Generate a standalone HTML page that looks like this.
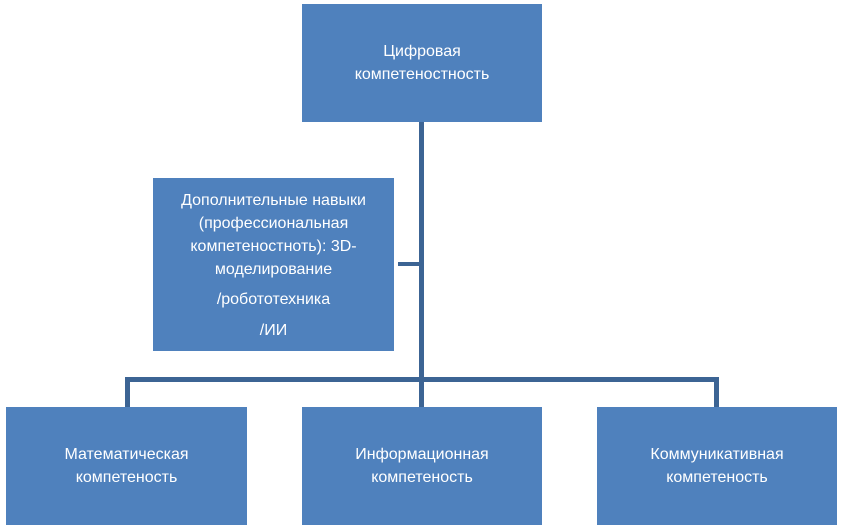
<!DOCTYPE html>
<html><head><meta charset="utf-8"><style>
body{margin:0;width:846px;height:529px;background:#fff;position:relative;overflow:hidden;font-family:"Liberation Sans","DejaVu Sans",sans-serif;}
.b{position:absolute;background:#4f81bd;color:#fff;display:flex;align-items:center;justify-content:center;text-align:center;font-size:16px;line-height:23px;}
.l{position:absolute;background:#3c6494;}
</style></head><body>
<div class="l" style="left:419px;top:122px;width:5px;height:285px"></div>
<div class="l" style="left:125px;top:377px;width:594px;height:5px"></div>
<div class="l" style="left:125px;top:377px;width:5px;height:30px"></div>
<div class="l" style="left:714px;top:377px;width:5px;height:30px"></div>
<div class="l" style="left:398px;top:262px;width:22px;height:4px"></div>
<div class="b" style="left:302px;top:4px;width:240px;height:118px">Цифровая<br>компетеностность</div>
<div class="b" style="left:153px;top:178px;width:241px;height:173px"><div style="margin-top:2px">Дополнительные навыки<br>(профессиональная<br>компетеностноть): 3D-<br>моделирование<div style="margin-top:7px">/робототехника</div><div style="margin-top:8px">/ИИ</div></div></div>
<div class="b" style="left:6px;top:407px;width:241px;height:118px">Математическая<br>компетеность</div>
<div class="b" style="left:302px;top:407px;width:240px;height:118px">Информационная<br>компетеность</div>
<div class="b" style="left:597px;top:407px;width:240px;height:118px">Коммуникативная<br>компетеность</div>
</body></html>
